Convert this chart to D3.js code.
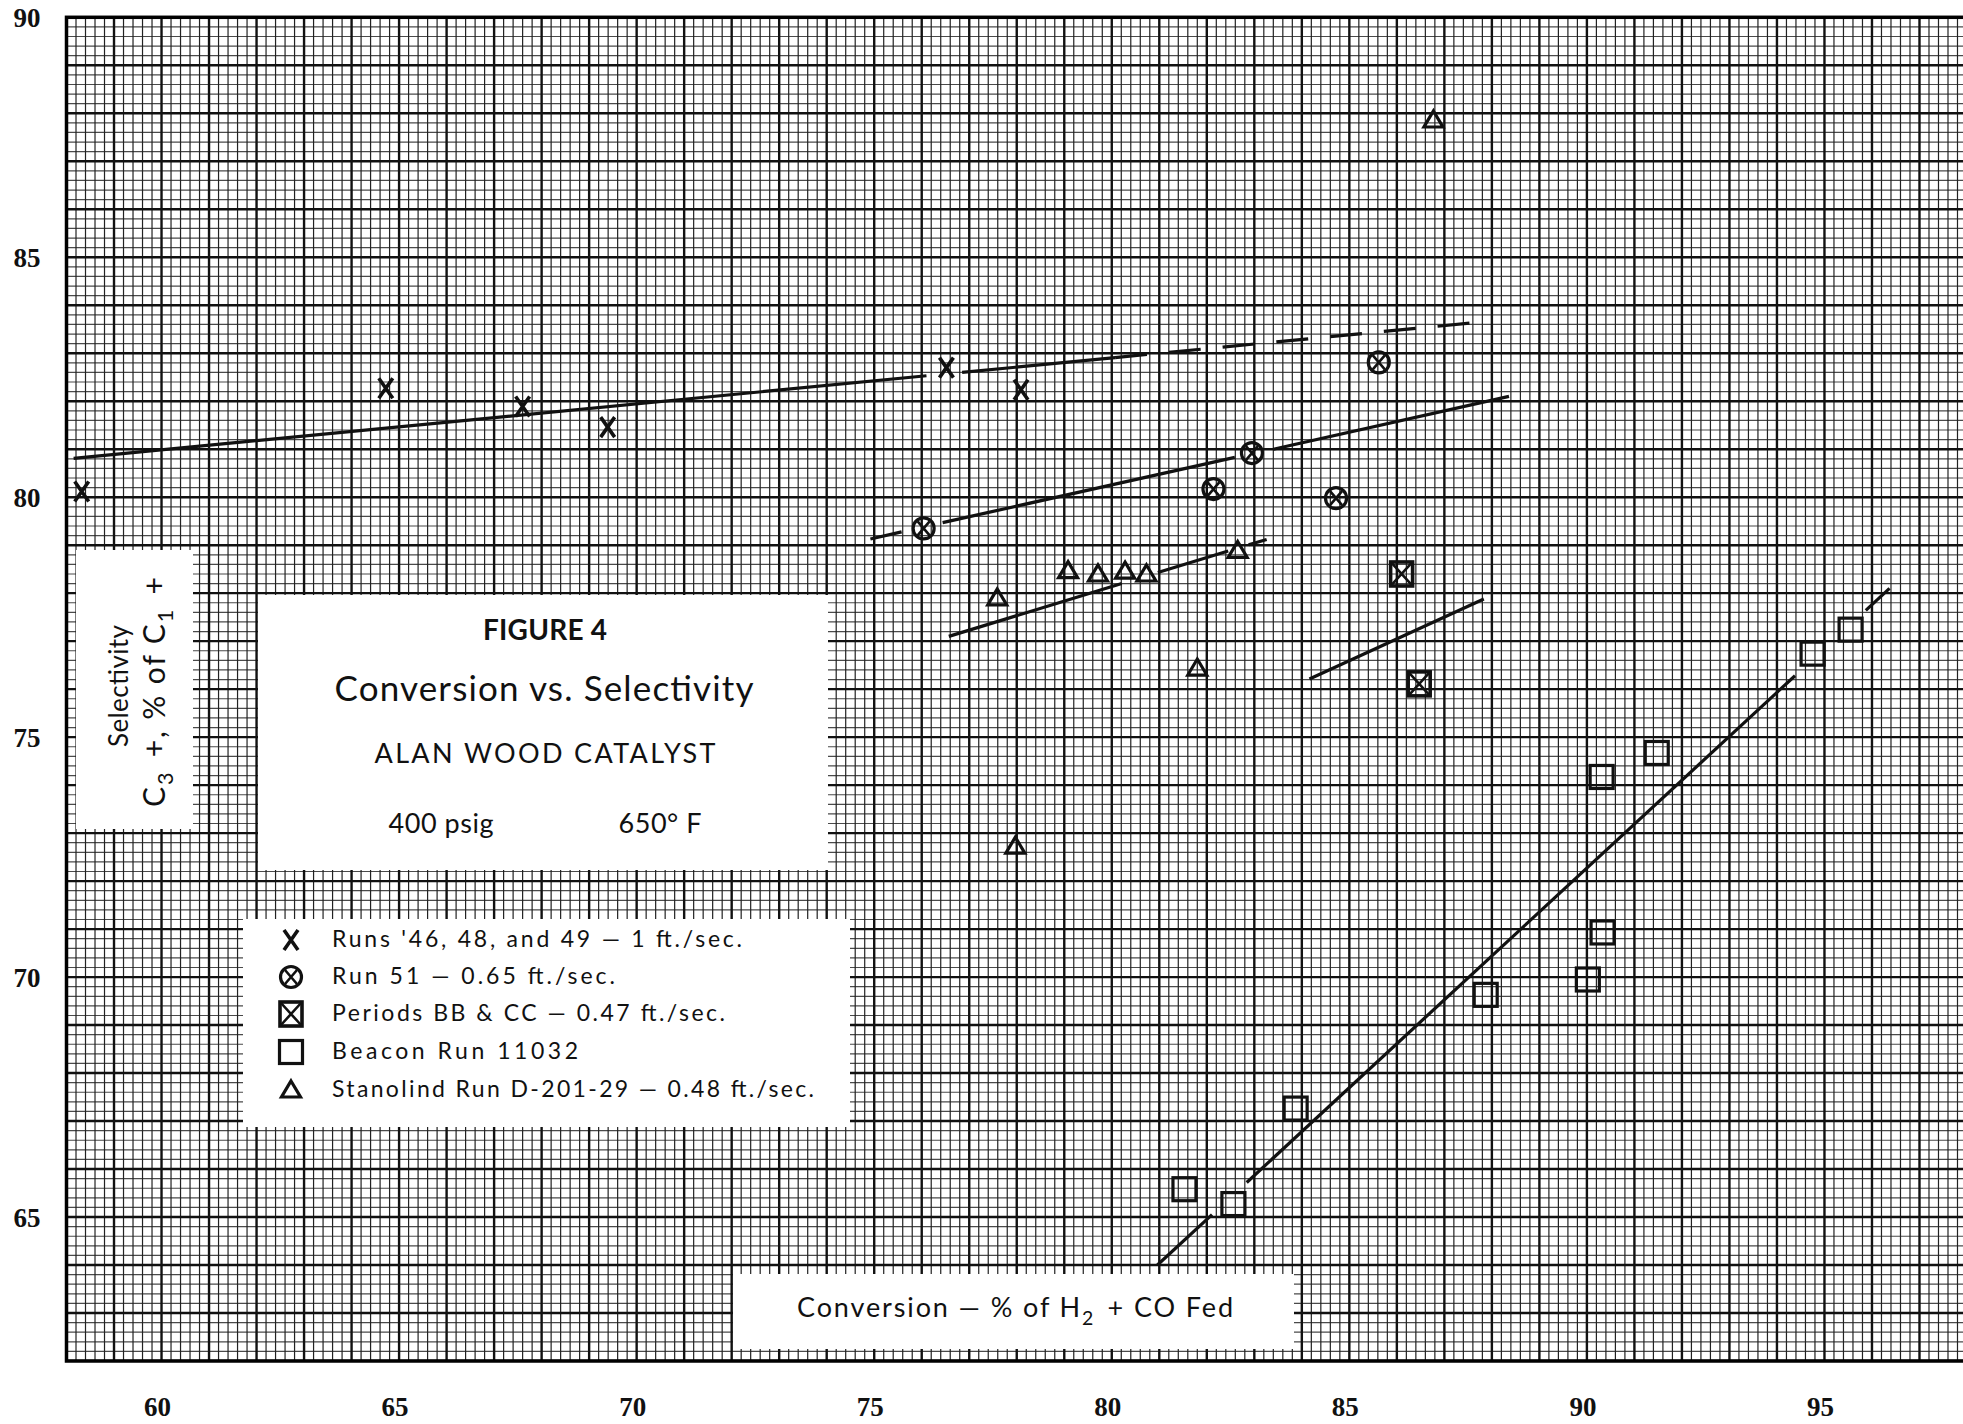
<!DOCTYPE html>
<html lang="en">
<head>
  <meta charset="UTF-8">
  <title>Figure 4 - Conversion vs. Selectivity</title>
  <script src="https://d3js.org/d3.v7.min.js"></script>
  <style>
    body { margin: 0; background: #fff; }
    svg { display: block; background: #fff; }
    .tick-label { font-family: "Liberation Serif", serif; font-weight: bold; font-size: 27px; fill: #111; }
    .box-text { font-family: Lato, "DejaVu Sans", sans-serif; fill: #111; }
  </style>
</head>
<body>
  <svg width="1963" height="1424"></svg>
  <script>
    // --- data ---
    const xTicks = [60, 65, 70, 75, 80, 85, 90, 95];
    const yTicks = [65, 70, 75, 80, 85, 90];

    // [conversion %, selectivity %]
    const runs46 = [[58.32, 80.12], [64.72, 82.27], [67.60, 81.89], [69.39, 81.46], [76.52, 82.70], [78.09, 82.24]];
    const run51 = [[76.04, 79.35], [82.14, 80.17], [82.95, 80.92], [84.72, 79.98], [85.62, 82.81]];
    const periodsBBCC = [[86.10, 78.40], [86.47, 76.11]];
    const beacon = [[81.53, 65.58], [82.56, 65.27], [83.87, 67.26], [87.87, 69.63], [90.02, 69.95],
                    [90.33, 70.93], [90.31, 74.17], [91.47, 74.67], [94.75, 76.74], [95.55, 77.24]];
    const stanolind = [[86.77, 87.86], [77.59, 77.90], [79.08, 78.47], [79.71, 78.40], [80.28, 78.46],
                       [80.73, 78.40], [82.65, 78.89], [81.80, 76.44], [77.97, 72.73]];

    // hand drawn fit lines, as [start, end] pieces; dashed pieces separately
    const fitSolid = [
      [[58.15, 80.81], [76.10, 82.53]], [[76.85, 82.60], [80.07, 82.91]],   // runs 46-49
      [[76.44, 79.47], [82.59, 80.83]], [[83.40, 81.00], [88.36, 82.10]],   // run 51
      [[76.57, 77.10], [80.21, 78.20]], [[80.97, 78.43], [82.45, 78.88]],   // stanolind
      [[82.88, 79.01], [83.26, 79.12]],
      [[84.16, 76.21], [87.83, 77.88]],                                     // BB & CC
      [[80.96, 64.00], [82.11, 65.05]], [[82.84, 65.72], [94.38, 76.28]],   // beacon
      [[95.87, 77.64], [96.37, 78.10]]
    ];
    const fitDashed = [
      [[80.07, 82.91], [87.56, 83.63]],
      [[74.92, 79.13], [75.63, 79.29]]
    ];

    const legendLabels = [
      "Runs '46, 48, and 49 — 1 ft./sec.",
      "Run  51 — 0.65 ft./sec.",
      "Periods BB & CC — 0.47 ft./sec.",
      "Beacon  Run  11032",
      "Stanolind Run D-201-29 — 0.48 ft./sec."
    ];

    const svg = d3.select("svg");

    const x = d3.scaleLinear().domain([58, 98]).range([66.5, 1967]);
    const y = d3.scaleLinear().domain([62, 90]).range([1361, 17.3]);

    svg.append("defs").append("clipPath").attr("id", "plotClip")
      .append("rect")
      .attr("x", x(58)).attr("y", y(90))
      .attr("width", x(98) - x(58)).attr("height", y(62) - y(90));

    // --- graph paper: 0.2 minor, 1.0 major ---
    const grid = svg.append("g").attr("clip-path", "url(#plotClip)");
    const vIdx = d3.range(58 * 5, 98 * 5 + 1);
    const hIdx = d3.range(62 * 5, 90 * 5 + 1);

    grid.selectAll("line.hminor").data(hIdx.filter(i => i % 5)).join("line")
      .attr("x1", x(58)).attr("x2", x(98))
      .attr("y1", i => y(i / 5)).attr("y2", i => y(i / 5))
      .attr("stroke", "#4a4a4a").attr("stroke-width", 1.2);
    grid.selectAll("line.vminor").data(vIdx.filter(i => i % 5)).join("line")
      .attr("x1", i => x(i / 5)).attr("x2", i => x(i / 5))
      .attr("y1", y(90)).attr("y2", y(62))
      .attr("stroke", "#222").attr("stroke-width", 1.2);
    grid.selectAll("line.hmajor").data(hIdx.filter(i => i % 5 === 0)).join("line")
      .attr("x1", x(58)).attr("x2", x(98))
      .attr("y1", i => y(i / 5)).attr("y2", i => y(i / 5))
      .attr("stroke", "#111").attr("stroke-width", 2.4);
    grid.selectAll("line.vmajor").data(vIdx.filter(i => i % 5 === 0)).join("line")
      .attr("x1", i => x(i / 5)).attr("x2", i => x(i / 5))
      .attr("y1", y(90)).attr("y2", y(62))
      .attr("stroke", "#111").attr("stroke-width", 2.4);

    svg.append("rect")
      .attr("x", x(58)).attr("y", y(90))
      .attr("width", x(98) - x(58)).attr("height", y(62) - y(90))
      .attr("fill", "none").attr("stroke", "#000").attr("stroke-width", 3.5);

    // --- tick labels ---
    svg.selectAll("text.xt").data(xTicks).join("text")
      .attr("class", "tick-label")
      .attr("x", d => x(d) - 4).attr("y", 1416)
      .attr("text-anchor", "middle")
      .text(d => d);
    svg.selectAll("text.yt").data(yTicks).join("text")
      .attr("class", "tick-label")
      .attr("x", 27).attr("y", d => y(d) + 10)
      .attr("text-anchor", "middle")
      .text(d => d);

    // --- white paste-up boxes ---
    const boxes = [
      { x: 76, y: 550, w: 117, h: 279 },    // y axis title
      { x: 258, y: 595, w: 570, h: 275 },   // figure title
      { x: 243, y: 919, w: 607, h: 208 },   // legend
      { x: 733, y: 1274, w: 561, h: 75 }    // x axis title
    ];
    svg.selectAll("rect.box").data(boxes).join("rect")
      .attr("x", d => d.x).attr("y", d => d.y)
      .attr("width", d => d.w).attr("height", d => d.h)
      .attr("fill", "#fff");

    function addText(px, py, size, len, parts, opts = {}) {
      const t = svg.append("text").attr("class", "box-text")
        .attr("x", px).attr("y", py)
        .attr("font-size", size)
        .attr("text-anchor", opts.anchor || "middle")
        .attr("font-weight", opts.weight || "normal");
      if (opts.rotate) t.attr("transform", `rotate(-90,${px},${py})`);
      parts.forEach(p => {
        if (typeof p === "string") t.append("tspan").text(p);
        else t.append("tspan").attr("font-size", size * 0.72).attr("dy", size * 0.28).text(p.sub)
          .clone().attr("dy", -size * 0.28).attr("font-size", size).text("\u200a");
      });
      if (len) t.attr("textLength", len).attr("lengthAdjust", "spacing");
      return t;
    }

    // y axis title (rotated)
    addText(128, 686, 26, 122, ["Selectivity"], { rotate: true });
    addText(165, 692, 30, 230, ["C", { sub: "3" }, " +, % of C", { sub: "1" }, " +"], { rotate: true });

    // figure title block
    addText(545, 640, 28, 124, ["FIGURE 4"], { weight: "bold" });
    addText(544, 701, 35, 419, ["Conversion vs. Selectivity"]);
    addText(545, 763, 27, 341, ["ALAN WOOD CATALYST"]);
    addText(441, 833, 27, 105, ["400 psig"]);
    addText(660, 833, 27, 83, ["650° F"]);

    // x axis title
    addText(1015, 1317, 27, 436, ["Conversion — % of H", { sub: "2" }, " + CO Fed"]);

    // --- markers ---
    const ink = "#111";
    const symbols = {
      cross: g => g.append("path").attr("d", "M-7,-10L7,10M7,-10L-7,10")
        .attr("stroke", ink).attr("stroke-width", 3.6).attr("fill", "none"),
      circleX: g => {
        g.append("circle").attr("r", 10.5).attr("fill", "none").attr("stroke", ink).attr("stroke-width", 3.2);
        g.append("path").attr("d", "M-6,-7L6,7M6,-7L-6,7").attr("stroke", ink).attr("stroke-width", 2.6);
      },
      boxX: g => {
        g.append("rect").attr("x", -11).attr("y", -12).attr("width", 22).attr("height", 24)
          .attr("fill", "none").attr("stroke", ink).attr("stroke-width", 3.6);
        g.append("path").attr("d", "M-10,-11L10,11M10,-11L-10,11").attr("stroke", ink).attr("stroke-width", 2.6);
      },
      square: g => g.append("rect").attr("x", -11.5).attr("y", -11.5).attr("width", 23).attr("height", 23)
        .attr("fill", "none").attr("stroke", ink).attr("stroke-width", 3.2),
      triangle: g => g.append("path").attr("d", "M0,-9L9.5,7L-9.5,7Z")
        .attr("fill", "none").attr("stroke", ink).attr("stroke-width", 3.2).attr("stroke-linejoin", "miter")
    };

    const series = [
      { pts: runs46, sym: "cross" },
      { pts: run51, sym: "circleX" },
      { pts: periodsBBCC, sym: "boxX" },
      { pts: beacon, sym: "square" },
      { pts: stanolind, sym: "triangle" }
    ];

    // fit lines
    const lineGen = d3.line().x(d => x(d[0])).y(d => y(d[1]));
    svg.append("g").selectAll("path").data(fitSolid).join("path")
      .attr("d", lineGen).attr("stroke", ink).attr("stroke-width", 3.2).attr("fill", "none");
    svg.append("g").selectAll("path").data(fitDashed).join("path")
      .attr("d", lineGen).attr("stroke", ink).attr("stroke-width", 3.2).attr("fill", "none")
      .attr("stroke-dasharray", "32,22");

    series.forEach(s => {
      svg.append("g").selectAll("g").data(s.pts).join("g")
        .attr("transform", d => `translate(${x(d[0])},${y(d[1])})`)
        .each(function () { symbols[s.sym](d3.select(this)); });
    });

    // --- legend ---
    const legendBase = [947, 984, 1021, 1059, 1097];
    const legendLens = [410, 283, 393, 246, 482];
    series.forEach((s, i) => {
      const g = svg.append("g").attr("transform", `translate(291,${legendBase[i] - 7})`);
      symbols[s.sym](g);
      addText(332, legendBase[i], 23, legendLens[i], [legendLabels[i]], { anchor: "start" });
    });
  </script>
</body>
</html>
